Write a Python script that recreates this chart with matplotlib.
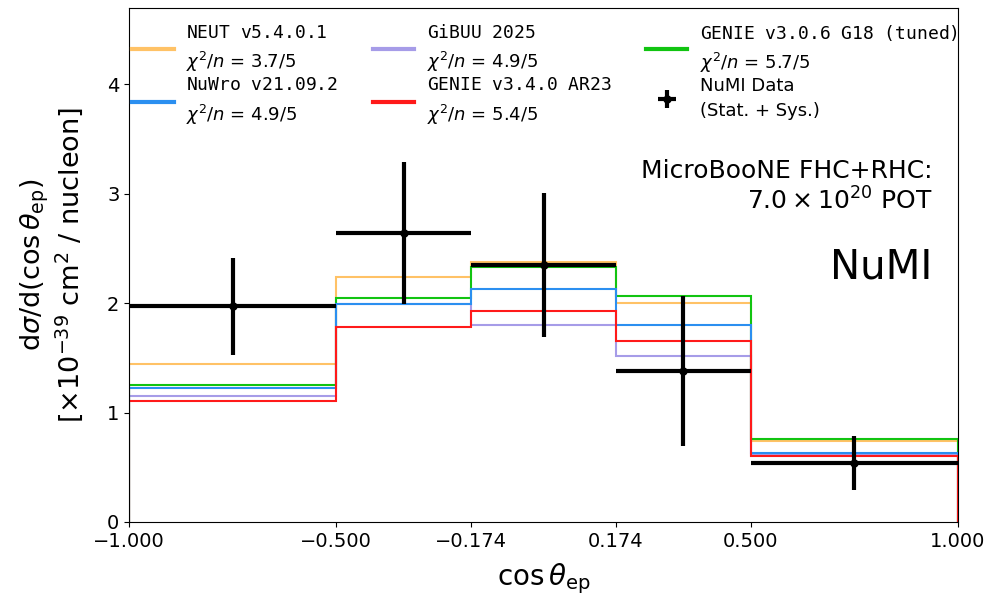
import numpy as np
import matplotlib
matplotlib.use('Agg')
import matplotlib.pyplot as plt
from matplotlib.lines import Line2D

# bin edges in cos(theta_ep)
bin_edges = [-1.0, -0.5, -0.174, 0.174, 0.5, 1.0]

# measured cross section and total (stat+sys) uncertainty
data_xsec = [1.97, 2.64, 2.35, 1.38, 0.54]
data_err = [0.44, 0.65, 0.66, 0.69, 0.25]

# generator predictions
neut = [1.44, 2.24, 2.38, 2.00, 0.74]
nuwro = [1.22, 1.99, 2.13, 1.80, 0.63]
gibuu = [1.15, 1.99, 1.80, 1.52, 0.61]
genie_ar23 = [1.11, 1.78, 1.93, 1.65, 0.60]
genie_g18 = [1.25, 2.05, 2.33, 2.07, 0.76]

chi2 = {"neut": "3.7/5", "nuwro": "4.9/5", "gibuu": "4.9/5",
        "ar23": "5.4/5", "g18": "5.7/5"}

edges = np.array(bin_edges)
centers = 0.5 * (edges[1:] + edges[:-1])
half_w = 0.5 * (edges[1:] - edges[:-1])

fig = plt.figure(figsize=(10.01, 6.02), dpi=100)
ax = fig.add_axes([0.129, 0.133, 0.828, 0.854])


def step(vals, color, label):
    ax.stairs(vals, edges, baseline=0, color=color, lw=1.5)
    return Line2D([], [], color=color, lw=3, label=label)


def lab(name, key):
    return (r"$\mathtt{" + name.replace(" ", r"\ \;") + "}$\n"
            + r"$\chi^2/n$ = " + chi2[key])


h_neut = step(neut, '#ffc266', lab("NEUT v5.4.0.1", "neut"))
h_gibuu = step(gibuu, '#a69ce8', lab("GiBUU 2025", "gibuu"))
h_g18 = step(genie_g18, '#11c411', lab("GENIE v3.0.6 G18 (tuned)", "g18"))
h_nuwro = step(nuwro, '#2b8ff0', lab("NuWro v21.09.2", "nuwro"))
h_ar23 = step(genie_ar23, '#ff1a1a', lab("GENIE v3.4.0 AR23", "ar23"))

h_data = ax.errorbar(centers, data_xsec, xerr=half_w, yerr=data_err, fmt='o',
                     color='black', ms=5, elinewidth=3, capsize=0,
                     label="NuMI Data\n(Stat. + Sys.)")

handles = [h_neut, h_nuwro, h_gibuu, h_ar23, h_g18, h_data]
leg = ax.legend(handles=handles, ncol=3, loc='upper left', frameon=False,
                fontsize=13, bbox_to_anchor=(-0.016, 1.003), handlelength=2.3,
                handletextpad=0.7, columnspacing=1.9, labelspacing=0.14)
for t in leg.get_texts():
    t.set_linespacing(1.45)

ax.text(0.969, 0.706, "MicroBooNE FHC+RHC:\n" + r"$7.0 \times 10^{20}$ POT",
        transform=ax.transAxes, ha='right', va='top', fontsize=18,
        multialignment='right')
ax.text(0.969, 0.533, "NuMI", transform=ax.transAxes, ha='right', va='top',
        fontsize=29)

ax.set_xlim(-1, 1)
ax.set_ylim(0, 4.7)
ax.set_xticks(bin_edges)
ax.set_xticklabels([f"{e:.3f}".replace("-", "\u2212") for e in bin_edges])
ax.set_yticks([0, 1, 2, 3, 4])
ax.tick_params(labelsize=14)
ax.set_xlabel(r"$\cos\theta_{\mathrm{ep}}$", fontsize=20, labelpad=8)
ax.set_ylabel(r"d$\sigma$/d($\cos\theta_{\mathrm{ep}}$)" + "\n"
              + r"[$\times 10^{-39}$ cm$^2$ / nucleon]", fontsize=19.5,
              linespacing=1.1, labelpad=16)

plt.savefig("out.png", dpi=100)
